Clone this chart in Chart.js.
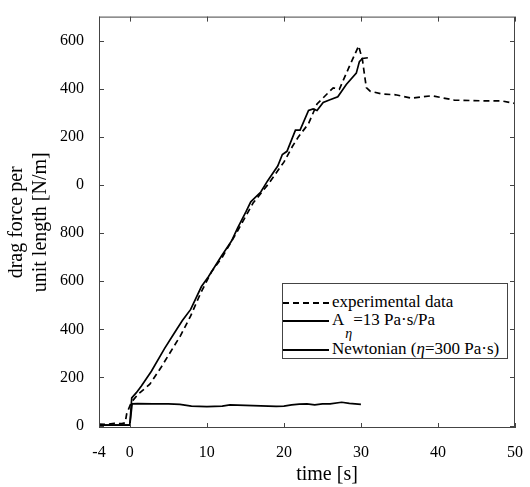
<!DOCTYPE html>
<html>
<head>
<meta charset="utf-8">
<script src="https://cdn.jsdelivr.net/npm/chart.js@4"></script>
<style>
	body { margin: 0; background: #fff; }
	#wrap { position: relative; width: 530px; height: 487px; }
	#legend {
		position: absolute; left: 282px; top: 283px; width: 226px; height: 76px;
		border: 1px solid #444; background: #fff; box-sizing: border-box;
		font-family: "Liberation Serif", serif; font-size: 17px; color: #000;
	}
	#legend .row { position: absolute; left: 0; height: 18px; line-height: 18px; white-space: nowrap; }
	#legend .sample { display: inline-block; width: 46px; vertical-align: middle; margin-right: 3px; border-top: 2px solid #000; }
	#legend .dash { border-top-style: dashed; }
	#legend .sub { position: relative; top: 13px; font-size: 14px; font-style: italic; margin: 0 1px 0 1px; }
</style>
</head>
<body>
<div id="wrap">
	<canvas id="dragChart" width="530" height="487"></canvas>
	<div id="legend">
		<div class="row" style="top:9px"><span class="sample dash"></span>experimental data</div>
		<div class="row" style="top:27px"><span class="sample"></span>A<span class="sub">η</span>=13 Pa·s/Pa</div>
		<div class="row" style="top:56px"><span class="sample"></span>Newtonian (<i>η</i>=300 Pa·s)</div>
	</div>
</div>
<script>
// 实验数据 (虚线)
const expTime = [-4, -3, -2, -1, -0.6, -0.4, 0.2, 1.1, 2.6, 4.0, 5.3, 6.6, 7.9, 9.2, 10.6, 12, 14, 16, 18, 20, 21.1, 21.9, 23.2, 24.3, 26.4, 27.2, 28.5, 29.7, 30.2, 30.5, 30.7, 31.2, 32.8, 34.5, 36.6, 39.2, 42.1, 45.6, 48.2, 50];
const expForce = [6, 5, 9, 8, 12, 50, 97, 131, 172, 239, 307, 375, 456, 551, 639, 700, 810, 925, 1005, 1095, 1160, 1201, 1255, 1337, 1404, 1398, 1493, 1578, 1520, 1450, 1405, 1390, 1378, 1375, 1361, 1371, 1353, 1350, 1350, 1339];

// A_eta = 13 Pa·s/Pa 模型
const aTime = [-4, 0, 0.25, 0.85, 1.5, 2.8, 4.5, 5.7, 6.8, 7.9, 9.3, 10.2, 11.9, 13.2, 14.0, 15.1, 15.7, 17.0, 17.9, 19.2, 19.8, 20.4, 21.5, 22.1, 23.2, 23.8, 24.3, 25.1, 25.9, 27.0, 28.1, 29.4, 29.8, 30.2, 30.9];
const aForce = [2, 2, 115, 137, 165, 226, 320, 381, 436, 483, 578, 619, 705, 767, 822, 890, 930, 971, 1018, 1079, 1127, 1140, 1228, 1228, 1310, 1316, 1310, 1343, 1353, 1367, 1418, 1465, 1513, 1526, 1529];

// 牛顿流体模型
const newtTime = [-4, 0, 0.3, 1, 3, 5, 6.5, 8, 10, 12, 13, 15, 17, 19, 20, 21, 22, 23, 24, 25, 26, 27.5, 28.5, 30];
const newtForce = [2, 2, 90, 91, 90, 90, 88, 81, 79, 81, 86, 84, 82, 80, 81, 86, 89, 90, 86, 90, 90, 97, 92, 88];

// 坐标轴刻度
const xTickValues = [-4, 0, 10, 20, 30, 40, 50];
const yTickValues = [0, 200, 400, 600, 800, 1000, 1200, 1400, 1600];
const yTickLabels = ['0', '200', '400', '600', '800', '0', '200', '400', '600'];

function toPoints(xs, ys) {
	return xs.map((x, i) => ({ x: x, y: ys[i] }));
}

// 边框和内向刻度
const framePlugin = {
	id: 'frame',
	afterDatasetsDraw(chart) {
		const { ctx, chartArea: a, scales } = chart;
		ctx.save();
		ctx.strokeStyle = '#444';
		ctx.lineWidth = 1;
		ctx.strokeRect(a.left + 0.5, a.top + 0.5, a.right - a.left - 1, a.bottom - a.top - 1);
		ctx.beginPath();
		scales.x.ticks.forEach(t => {
			const px = Math.round(scales.x.getPixelForValue(t.value)) + 0.5;
			ctx.moveTo(px, a.bottom); ctx.lineTo(px, a.bottom - 5);
			ctx.moveTo(px, a.top); ctx.lineTo(px, a.top + 5);
		});
		scales.y.ticks.forEach(t => {
			const py = Math.round(scales.y.getPixelForValue(t.value)) + 0.5;
			ctx.moveTo(a.left, py); ctx.lineTo(a.left + 5, py);
			ctx.moveTo(a.right, py); ctx.lineTo(a.right - 5, py);
		});
		ctx.stroke();
		ctx.restore();
	}
};

const serif = 'Liberation Serif, serif';
Chart.defaults.font.family = serif;
Chart.defaults.color = '#000';

function drawChart() {
	const ctx = document.getElementById('dragChart').getContext('2d');
	new Chart(ctx, {
		type: 'line',
		data: {
			datasets: [
				{
					label: 'experimental data',
					data: toPoints(expTime, expForce),
					borderColor: '#000',
					borderWidth: 1.7,
					borderDash: [6, 4]
				},
				{
					label: 'A_eta=13 Pa·s/Pa',
					data: toPoints(aTime, aForce),
					borderColor: '#000',
					borderWidth: 1.7
				},
				{
					label: 'Newtonian (η=300 Pa·s)',
					data: toPoints(newtTime, newtForce),
					borderColor: '#000',
					borderWidth: 1.7
				}
			]
		},
		options: {
			responsive: false,
			animation: false,
			events: [],
			elements: { point: { radius: 0 }, line: { tension: 0 } },
			layout: { padding: { left: 0, top: 7, right: 9, bottom: 0 } },
			plugins: { legend: { display: false }, tooltip: { enabled: false } },
			scales: {
				x: {
					type: 'linear',
					min: -4,
					max: 50,
					grid: { display: false },
					border: { display: false },
					afterBuildTicks: scale => { scale.ticks = xTickValues.map(v => ({ value: v })); },
					afterFit: scale => { scale.height = 59; },
					ticks: { color: '#000', padding: 7, font: { family: serif, size: 16 } },
					title: {
						display: true,
						text: '        time [s]',
						color: '#000',
						padding: { top: 5, bottom: 0 },
						font: { family: serif, size: 20 }
					}
				},
				y: {
					type: 'linear',
					min: -10,
					max: 1700,
					grid: { display: false },
					border: { display: false },
					afterBuildTicks: scale => { scale.ticks = yTickValues.map(v => ({ value: v })); },
					afterFit: scale => { scale.width = 99; },
					ticks: {
						color: '#000',
						padding: 7,
						font: { family: serif, size: 16 },
						callback: (value) => yTickLabels[yTickValues.indexOf(value)]
					},
					title: {
						display: true,
						text: ['drag force per', 'unit length [N/m]'],
						color: '#000',
						padding: { top: 5, bottom: 0 },
						font: { family: serif, size: 20, lineHeight: 1.2 }
					}
				}
			}
		},
		plugins: [framePlugin]
	});
}

// 等待字体加载后再绘制
Promise.all([
	document.fonts.load('16px "Liberation Serif"'),
	document.fonts.load('20px "Liberation Serif"')
]).then(drawChart, drawChart);
</script>
</body>
</html>
